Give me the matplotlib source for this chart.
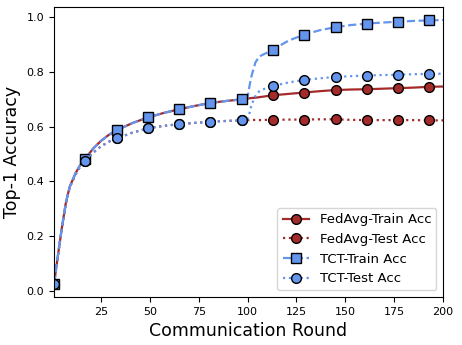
import matplotlib
matplotlib.use("Agg")
import matplotlib.pyplot as plt

# --- values (rounds with estimated accuracies) ---
rounds = [1, 3, 5, 7, 9, 12, 14, 17, 21, 25, 29, 33, 41, 49, 57, 65, 73, 81, 89, 97,
          100, 101, 102, 104, 106, 110, 113, 121, 129, 137, 145, 153, 161, 169, 177,
          185, 193, 200]

fedavg_train = [0.025, 0.13, 0.23, 0.32, 0.38, 0.43, 0.455, 0.483, 0.52, 0.548, 0.57,
                0.587, 0.613, 0.634, 0.65, 0.664, 0.676, 0.687, 0.694, 0.70,
                0.703, 0.704, 0.705, 0.706, 0.708, 0.712, 0.715, 0.72, 0.725, 0.73,
                0.734, 0.736, 0.737, 0.739, 0.741, 0.743, 0.746, 0.747]

fedavg_test = [0.025, 0.13, 0.228, 0.318, 0.378, 0.425, 0.45, 0.476, 0.505, 0.528, 0.545,
               0.557, 0.578, 0.594, 0.603, 0.609, 0.614, 0.618, 0.621, 0.623,
               0.624, 0.624, 0.624, 0.625, 0.624, 0.625, 0.625, 0.626, 0.626, 0.627,
               0.627, 0.625, 0.624, 0.624, 0.624, 0.624, 0.623, 0.623]

tct_train = [0.025, 0.13, 0.23, 0.32, 0.38, 0.43, 0.455, 0.483, 0.52, 0.548, 0.57,
             0.587, 0.613, 0.634, 0.65, 0.664, 0.676, 0.687, 0.694, 0.70,
             0.705, 0.75, 0.785, 0.835, 0.857, 0.871, 0.882, 0.915, 0.937, 0.953,
             0.964, 0.972, 0.977, 0.981, 0.984, 0.987, 0.989, 0.99]

tct_test = [0.025, 0.13, 0.228, 0.318, 0.378, 0.425, 0.45, 0.476, 0.505, 0.528, 0.545,
            0.557, 0.578, 0.594, 0.603, 0.609, 0.614, 0.618, 0.621, 0.623,
            0.628, 0.65, 0.68, 0.712, 0.73, 0.743, 0.749, 0.762, 0.771, 0.777,
            0.782, 0.785, 0.787, 0.789, 0.790, 0.792, 0.793, 0.794]

# markers every 16 rounds, starting at round 1
marker_idx = [i for i, r in enumerate(rounds) if (r - 1) % 16 == 0]

red = "#a52a2a"
blue = "#6495ed"

fig, ax = plt.subplots(figsize=(4.62, 3.45), dpi=100)
fig.subplots_adjust(left=0.117, right=0.959, top=0.98, bottom=0.139)

common = dict(markevery=marker_idx, markersize=7, markeredgecolor="black",
              markeredgewidth=1.0, linewidth=1.6)
ax.plot(rounds, fedavg_train, "-", marker="o", color=red, label="FedAvg-Train Acc", **common)
ax.plot(rounds, fedavg_test, ":", marker="o", color=red, label="FedAvg-Test Acc", **common)
ax.plot(rounds, tct_train, "--", marker="s", color=blue, label="TCT-Train Acc", **common)
ax.plot(rounds, tct_test, ":", marker="o", color=blue, label="TCT-Test Acc", **common)

ax.set_xlim(1, 200)
ax.set_xticks([25, 50, 75, 100, 125, 150, 175, 200])
ax.tick_params(labelsize=8)
ax.set_xlabel("Communication Round", fontsize=12.5)
ax.set_ylabel("Top-1 Accuracy", fontsize=12.5)
ax.legend(loc="lower right", fontsize=9.5)

fig.savefig("out.png", dpi=100)
